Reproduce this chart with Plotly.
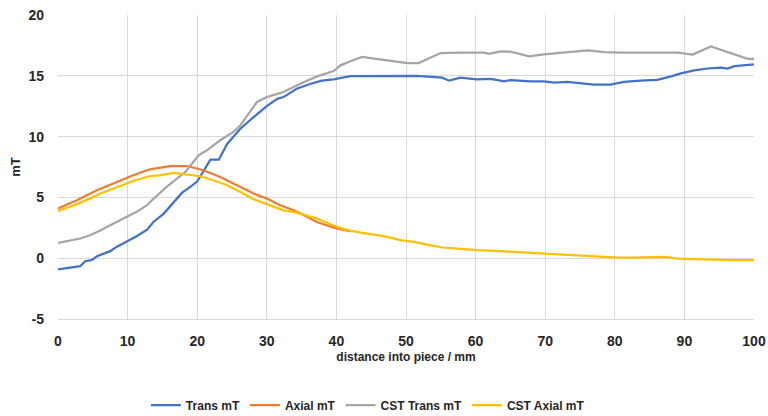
import plotly.graph_objects as go

# Trans mT (measured)
trans_x = [0, 3.2, 3.9, 4.8, 5.6, 6.5, 7.5, 8.4, 10, 11.3, 12.8, 13.7, 15.2, 16.6, 17.8, 19, 20, 21.9, 23.1, 24.3,
           26.2, 28.1, 30, 31.5, 32.4, 34.3, 36.3, 37.9, 39.6, 42, 46, 50.2, 51.6, 55.2, 56.2, 57.8, 60.2, 62.2, 64.1,
           65, 67.9, 69.8, 71.3, 73.2, 74.6, 77, 79.4, 81.3, 83.7, 86.1, 88.1, 89.5, 91.4, 93.3, 95.3, 96.2, 97.2,
           98.6, 100]
trans_y = [-0.93, -0.66, -0.25, -0.16, 0.16, 0.33, 0.58, 0.93, 1.4, 1.8, 2.35, 2.98, 3.67, 4.6, 5.37, 5.86, 6.3, 8.1, 8.1, 9.4,
           10.65, 11.6, 12.5, 13.1, 13.25, 13.94, 14.35, 14.6, 14.7, 14.98, 15.0, 15.0, 15.0, 14.85, 14.6, 14.85, 14.7, 14.75, 14.55,
           14.65, 14.54, 14.54, 14.44, 14.5, 14.4, 14.27, 14.27, 14.5, 14.6, 14.66, 14.95, 15.2, 15.45, 15.6, 15.67, 15.6, 15.8,
           15.85, 15.94]

# Axial mT (measured)
axial_x = [0, 2.7, 5.6, 8.4, 10.8, 13.2, 16.1, 18.5, 20.9, 23.3, 25.7, 28.1, 30, 31.9, 33.9, 37.2, 39.6, 42]
axial_y = [4.08, 4.77, 5.59, 6.27, 6.82, 7.31, 7.58, 7.58, 7.23, 6.68, 6.0, 5.32, 4.9, 4.35, 3.94, 2.98, 2.52, 2.2]

# CST Trans mT (simulated)
cst_trans_x = [0, 1.7, 3.2, 4.6, 6, 7.5, 8.4, 10, 11.3, 12.8, 13.5, 15.6, 18.3, 20.2, 21.4, 23.3, 25.2, 26.2, 27.4,
               28.6, 30, 32.4, 34.8, 37.2, 39.6, 40.6, 42, 43.7, 44.9, 48.7, 50.2, 51.8, 53.5, 55, 57.8, 61.2, 61.9,
               63.6, 65, 67.7, 69.8, 72.2, 76.1, 78.5, 80.9, 89, 91.2, 93.8, 96.2, 99.1, 100]
cst_trans_y = [1.26, 1.48, 1.62, 1.89, 2.25, 2.71, 2.98, 3.45, 3.81, 4.36, 4.77, 5.86, 7.1, 8.46, 8.87, 9.7, 10.38, 10.93, 11.9,
               12.85, 13.25, 13.67, 14.35, 14.95, 15.39, 15.86, 16.2, 16.55, 16.45, 16.2, 16.05, 16.05, 16.49, 16.87, 16.9, 16.9, 16.8,
               17.0, 16.98, 16.6, 16.76, 16.9, 17.09, 16.95, 16.9, 16.9, 16.74, 17.42, 16.95, 16.4, 16.4]

# CST Axial mT (simulated)
cst_axial_x = [0, 3.2, 6, 8.4, 10.8, 13.2, 14.6, 16.6, 18.5, 20.4, 22.3, 24.3, 26.2, 28.1, 29.5, 32.4, 33.9, 37.2, 40.1,
               42, 44.4, 46.8, 49.2, 51.1, 53, 55.2, 57.4, 60.2, 63.6, 67.4, 70.8, 74.6, 78, 80.4, 82.8, 85.2, 87.1,
               89, 91.4, 94.8, 96.7, 100]
cst_axial_y = [3.89, 4.55, 5.3, 5.8, 6.35, 6.76, 6.82, 7.01, 6.9, 6.74, 6.41, 6.0, 5.45, 4.85, 4.55, 3.94, 3.81, 3.26, 2.57,
               2.25, 2.03, 1.81, 1.48, 1.34, 1.12, 0.88, 0.79, 0.66, 0.58, 0.47, 0.33, 0.22, 0.11, 0.05, 0.05, 0.11, 0.11,
               -0.03, -0.08, -0.11, -0.16, -0.16]

# Axis tick labels
x_tick_vals = [0, 10, 20, 30, 40, 50, 60, 70, 80, 90, 100]
x_tick_text = ["0", "10", "20", "30", "40", "50", "60", "70", "80", "90", "100"]
y_tick_vals = [-5, 0, 5, 10, 15, 20]
y_tick_text = ["-5", "0", "5", "10", "15", "20"]

series = [
    ("Trans mT", trans_x, trans_y, "#4472C4"),
    ("Axial mT", axial_x, axial_y, "#ED7D31"),
    ("CST Trans mT", cst_trans_x, cst_trans_y, "#A5A5A5"),
    ("CST Axial mT", cst_axial_x, cst_axial_y, "#FFC000"),
]

fig = go.Figure()
for name, xs, ys, col in series:
    fig.add_trace(go.Scatter(x=xs, y=ys, mode="lines", name=name,
                             line=dict(color=col, width=2.25)))

font_fam = "Liberation Sans, Arial"
txt_col = "#262626"
fig.update_layout(
    width=768, height=416,
    margin=dict(l=58, r=14, t=15, b=97),
    paper_bgcolor="white", plot_bgcolor="white",
    font=dict(family=font_fam, color=txt_col, size=14),
    xaxis=dict(range=[0, 100], tickvals=x_tick_vals, ticktext=x_tick_text,
               showgrid=True, gridcolor="#D9D9D9", gridwidth=1,
               zeroline=False, showline=True, linecolor="#D9D9D9", mirror=False,
               automargin=False, ticklabelstandoff=9,
               tickfont=dict(size=14, family=font_fam, weight="bold", color=txt_col),
               title=dict(text="<b>distance into piece / mm</b>", font=dict(size=12, family=font_fam, color=txt_col),
                          standoff=4),
               ticks=""),
    yaxis=dict(range=[-5, 20], tickvals=y_tick_vals, ticktext=y_tick_text,
               showgrid=True, gridcolor="#D9D9D9", gridwidth=1,
               zeroline=False, showline=False,
               automargin=False, ticklabelstandoff=13,
               tickfont=dict(size=14, family=font_fam, weight="bold", color=txt_col),
               title=dict(text="<b>mT</b>", font=dict(size=13, family=font_fam, color=txt_col), standoff=4),
               ticks=""),
    legend=dict(orientation="h", x=0.479, xanchor="center", xref="container",
                y=0.026, yanchor="middle", yref="container",
                font=dict(size=12, family=font_fam, color=txt_col, weight="bold"),
                itemwidth=30, tracegroupgap=0),
    showlegend=True,
)

fig.write_html("out.html", config={"displayModeBar": False},
               post_script="document.body.style.margin='0';")
